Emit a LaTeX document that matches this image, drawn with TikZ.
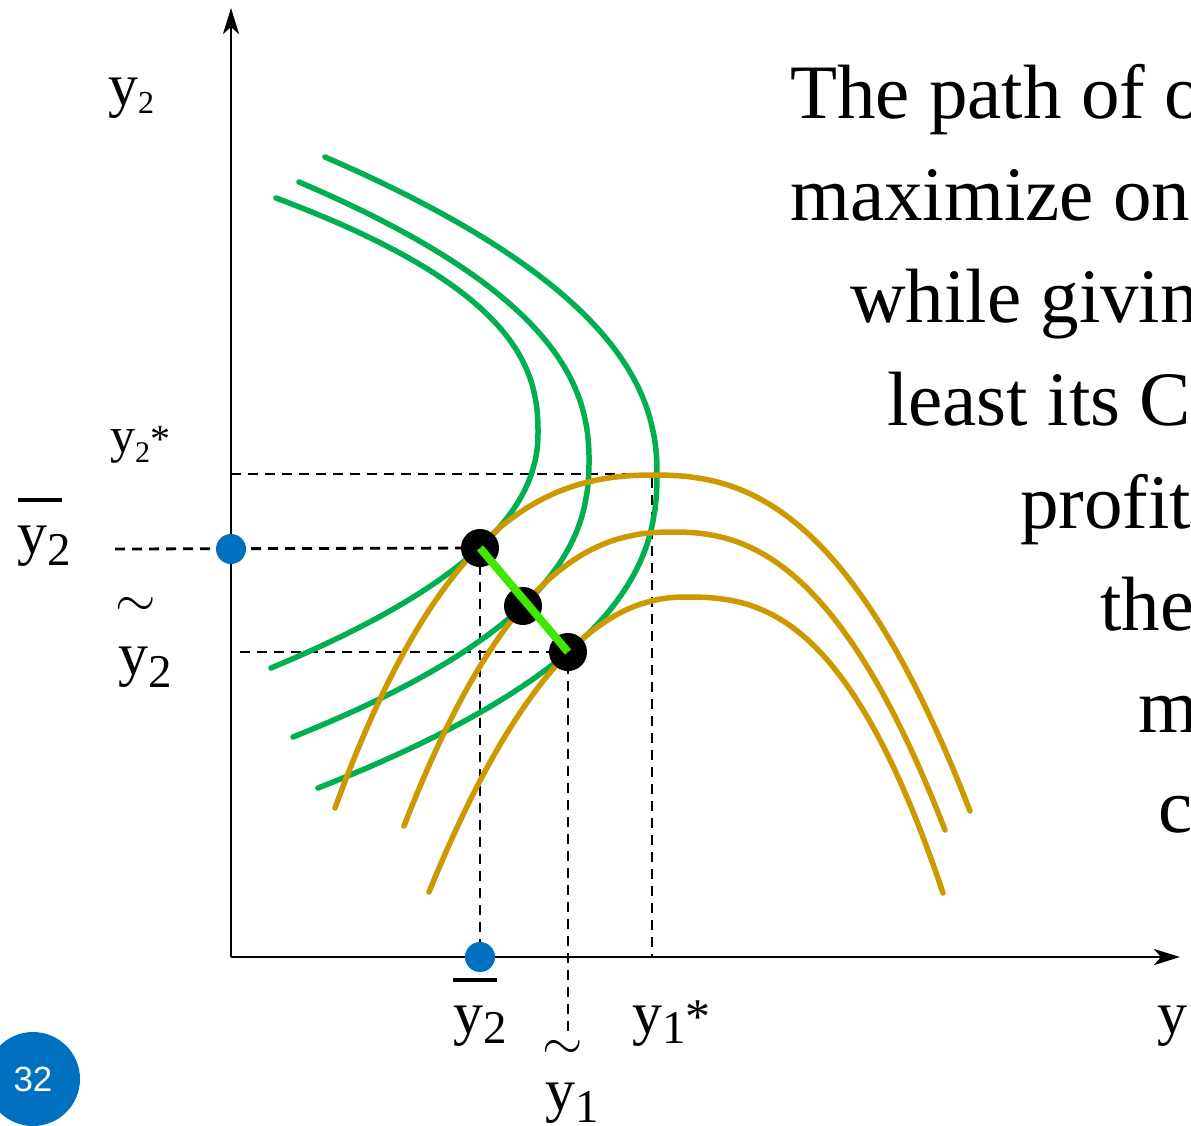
\documentclass[tikz,border=0pt]{standalone}
\usepackage{graphicx}
\usepackage{fontspec}
\setmainfont{Liberation Serif}
\newfontfamily\numfont{Liberation Sans}
\usetikzlibrary{arrows.meta,backgrounds}
\definecolor{cgreen}{HTML}{00B050}
\definecolor{cgold}{HTML}{CC9900}
\definecolor{cbright}{HTML}{40E800}
\definecolor{cblue}{HTML}{0070C0}
\newcommand{\fs}[1]{\fontsize{#1}{#1}\selectfont}
\newcommand{\bigtilde}{\scalebox{5.2}{$\sim$}}
\begin{document}
\begin{tikzpicture}[x=1pt,y=-1pt,
  axisline/.style={line width=2.6pt,-{Stealth[length=26pt,width=16pt,inset=7pt]}},
  guide/.style={line width=2.8pt,dash pattern=on 10pt off 7pt},
  gcurve/.style={cgreen,line width=5.5pt,line cap=round},
  ycurve/.style={cgold,line width=5.5pt,line cap=round},
  bdot/.style={circle,fill=black,minimum size=38pt,inner sep=0pt},
  bluedot/.style={circle,fill=cblue,minimum size=30pt,inner sep=0pt},
  lbl/.style={inner sep=0pt,anchor=base west},
  tilde/.style={inner sep=0pt},
  txt/.style={inner sep=0pt,anchor=base west,font=\fs{77}},
  barline/.style={line width=4.5pt}
]
\useasboundingbox (0,0) rectangle (1191,1125);
\clip (0,0) rectangle (1191,1125);

% named coordinates
\coordinate (O) at (231,957);
\coordinate (ytop) at (231,8);
\coordinate (xend) at (1180,957);
\coordinate (s1) at (231,474);
\coordinate (s2) at (652,474);
\coordinate (s3) at (652,957);
\coordinate (tl) at (115,549);
\coordinate (c1) at (240,652);
\coordinate (c2) at (568,1038);

% green curves (open to the left)
\draw[gcurve] plot[domain=-235:0,samples=60,variable=\t] ({538-262*((abs(\t)+0.01)/235)^2.4},{433+\t})
  -- plot[domain=0:235,samples=60,variable=\t] ({538-267*((\t+0.01)/235)^2.12},{433+\t});
\draw[gcurve] plot[domain=-278:0,samples=60,variable=\t] ({589-290*((abs(\t)+0.01)/278)^2.25},{460+\t})
  -- plot[domain=0:277,samples=60,variable=\t] ({589-296*((\t+0.01)/277)^2.34},{460+\t});
\draw[gcurve] plot[domain=-316:0,samples=60,variable=\t] ({657-332*((abs(\t)+0.01)/316)^2.2},{473+\t})
  -- plot[domain=0:315,samples=60,variable=\t] ({657-339*((\t+0.01)/315)^2.37},{473+\t});

% gold curves (open downward)
\draw[ycurve] plot[domain=-317:0,samples=60,variable=\t] ({652+\t},{475+13.1*(\t/100)^2+6.32*(abs(\t)/100)^3})
  -- plot[domain=0:318,samples=60,variable=\t] ({652+\t},{475+336*((\t+0.01)/318)^2.45});
\draw[ycurve] plot[domain=-269:0,samples=60,variable=\t] ({673+\t},{532+294*((abs(\t)+0.01)/269)^2.36})
  -- plot[domain=0:272,samples=60,variable=\t] ({673+\t},{532+298*((\t+0.01)/272)^2.36});
\draw[ycurve] plot[domain=-256:0,samples=60,variable=\t] ({685+\t},{597+295*((abs(\t)+0.01)/256)^2.13})
  -- plot[domain=0:258,samples=60,variable=\t] ({685+\t},{597+296*((\t+0.01)/258)^2.6});

% dots
\node[bdot] (pA) at (480,548) {};
\node[bdot] (pB) at (523,606) {};
\node[bdot] (pC) at (568,652) {};
\node[bluedot] (bY) at (231,549) {};
\node[bluedot] (bX) at (480,957) {};

\begin{pgfonlayer}{background}
\draw[guide] (tl) -- (pA.center);
\draw[guide] (pA.center) -- (bX.center);
\draw[guide] (c1) -- (pC.center) -- (c2);
\draw[guide] (s1) -- (s2) -- (s3);
\draw[axisline] (O) -- (ytop);
\draw[axisline] (O) -- (xend);
\end{pgfonlayer}

% contract path
\draw[cbright,line width=8pt] (pA.center) -- (pC.center);

% axis labels
\node[lbl] (ly2top) at (108,105) {\fs{60}y{\fs{32}\raisebox{-8pt}{2}}};
\node[lbl] (ly2star) at (110,452) {\fs{50}y{\fs{30}\raisebox{-10pt}{2}}{\fs{40}*}};
\node[lbl] (ly2bar) at (17,553) {\fs{60}y{\fs{47}\raisebox{-12pt}{2}}};
\draw[barline] (18,500) -- (62,500);
\node[tilde] (tily2) at (136,607) {\bigtilde};
\node[lbl] (ly2til) at (118,674) {\fs{60}y{\fs{47}\raisebox{-13pt}{2}}};
\draw[barline] (453,980) -- (497,980);
\node[lbl] (lx2bar) at (453,1033) {\fs{60}y{\fs{47}\raisebox{-10pt}{2}}};
\node[tilde] (tily1) at (563,1050) {\bigtilde};
\node[lbl] (ly1til) at (545,1110) {\fs{60}y{\fs{47}\raisebox{-12pt}{1}}};
\node[lbl] (ly1star) at (632,1033) {\fs{60}y{\fs{47}\raisebox{-10pt}{1}}{\fs{50}*}};
\node[lbl] (ly1) at (1157,1033) {\fs{60}y{\fs{47}\raisebox{-10pt}{1}}};

% text block
\node[txt] (t1) at (790,118) {The path of o};
\node[txt] (t2) at (790,220) {maximize one};
\node[txt] (t3) at (850,322) {while giving};
\node[txt] (t4) at (887,425) {least its C};
\node[txt] (t5) at (1020,528) {profit};
\node[txt] (t6) at (1100,630) {the};
\node[txt] (t7) at (1138,732) {m};
\node[txt] (t8) at (1158,832) {c};

% page number
\node[circle,fill=cblue,minimum size=94pt,inner sep=0pt,text=white,font=\numfont\fs{35}] (pg) at (33,1079) {32};
\end{tikzpicture}
\end{document}
